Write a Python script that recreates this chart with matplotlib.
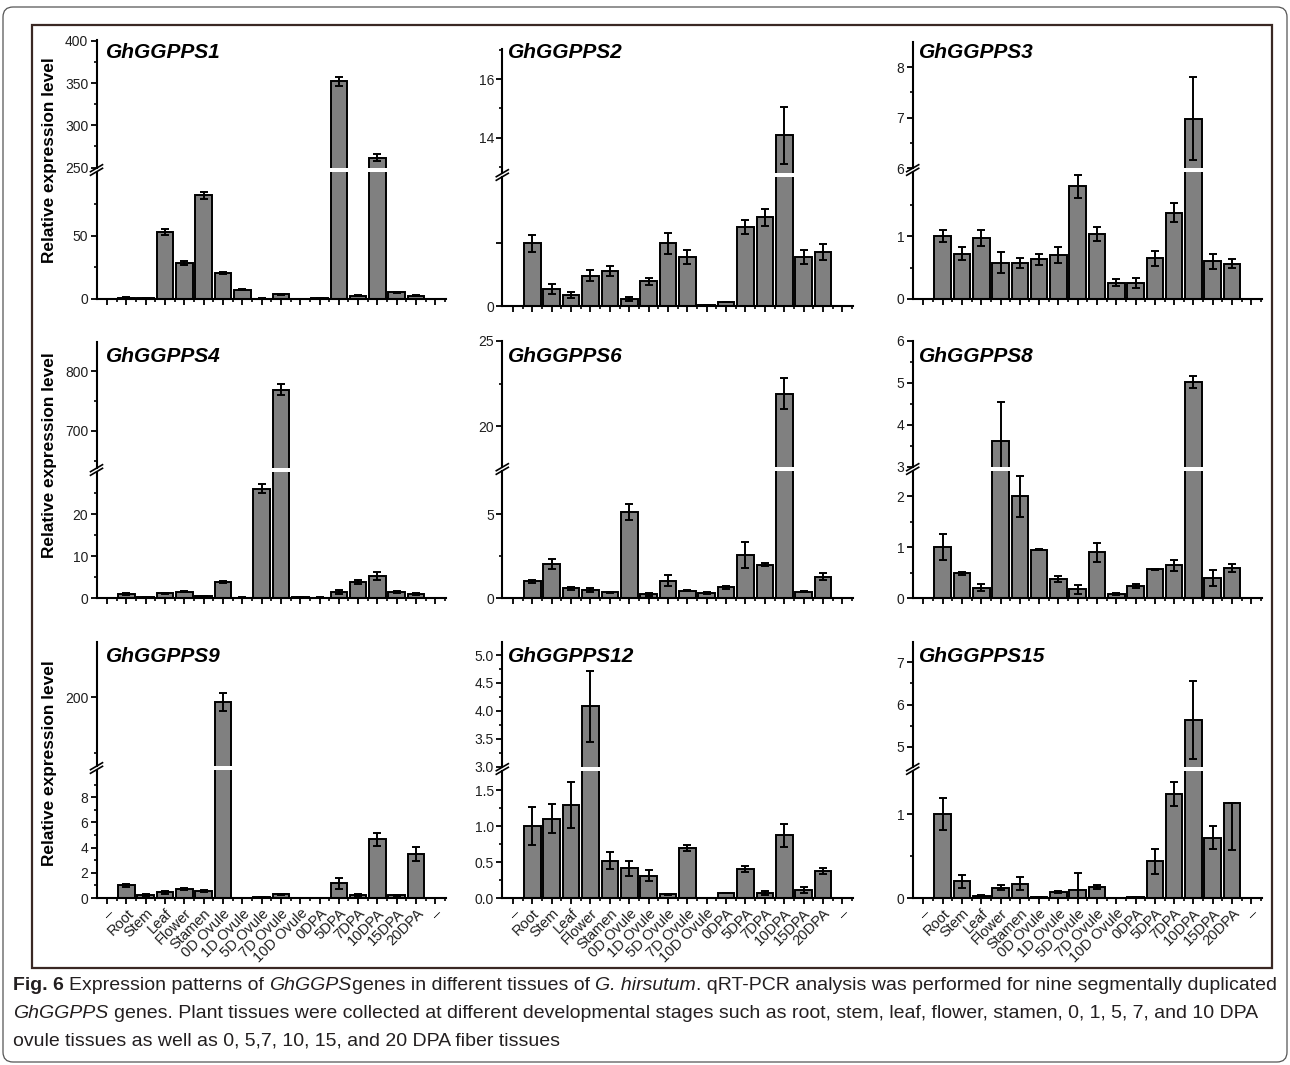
import numpy as np
import matplotlib
matplotlib.use('Agg')
import matplotlib.pyplot as plt
from matplotlib import font_manager
from matplotlib.lines import Line2D
from matplotlib.patches import FancyBboxPatch, Rectangle

W, H = 1290, 1065

tissues = ['Root', 'Stem', 'Leaf', 'Flower', 'Stamen', '0D Ovule', '1D Ovule',
           '5D Ovule', '7D Ovule', '10D Ovule', '0DPA', '5DPA', '7DPA', '10DPA',
           '15DPA', '20DPA']
tick_labels = ['–'] + tissues + ['–']

# relative expression (mean) and standard error per tissue
gg1_mean = [1.0, 0.9, 53.0, 28.5, 82.0, 20.3, 7.5, 0.3, 3.7, 0.2, 0.8, 352.0, 2.6, 262.0, 5.3, 2.6]
gg1_err = [0.2, 0.2, 2.5, 1.2, 2.5, 0.8, 0.3, 0.1, 0.5, 0.1, 0.2, 5.0, 0.6, 4.0, 0.3, 0.4]

gg2_mean = [0.99, 0.27, 0.17, 0.48, 0.55, 0.11, 0.39, 0.99, 0.77, 0.01, 0.06, 1.25, 1.40, 14.09, 0.78, 0.85]
gg2_err = [0.13, 0.08, 0.05, 0.09, 0.08, 0.03, 0.06, 0.17, 0.11, 0.0, 0.0, 0.11, 0.14, 0.96, 0.11, 0.13]

gg3_mean = [1.0, 0.72, 0.97, 0.58, 0.58, 0.63, 0.70, 1.79, 1.04, 0.26, 0.25, 0.65, 1.37, 6.98, 0.60, 0.56]
gg3_err = [0.1, 0.1, 0.12, 0.16, 0.08, 0.09, 0.13, 0.18, 0.11, 0.06, 0.08, 0.12, 0.15, 0.82, 0.12, 0.07]

gg4_mean = [0.95, 0.2, 1.1, 1.5, 0.4, 3.8, 0.1, 26.0, 769.0, 0.2, 0.1, 1.4, 3.8, 5.3, 1.5, 0.95]
gg4_err = [0.2, 0.05, 0.2, 0.1, 0.1, 0.2, 0.05, 1.1, 9.0, 0.05, 0.05, 0.4, 0.5, 1.0, 0.2, 0.3]

gg6_mean = [1.0, 2.03, 0.58, 0.46, 0.34, 5.14, 0.22, 1.03, 0.44, 0.28, 0.63, 2.57, 2.0, 21.9, 0.38, 1.27]
gg6_err = [0.08, 0.28, 0.1, 0.12, 0.03, 0.5, 0.08, 0.33, 0.05, 0.07, 0.07, 0.78, 0.1, 0.92, 0.05, 0.22]

gg8_mean = [1.0, 0.49, 0.2, 3.63, 2.0, 0.95, 0.38, 0.17, 0.9, 0.07, 0.24, 0.57, 0.64, 5.03, 0.4, 0.59]
gg8_err = [0.26, 0.03, 0.07, 0.92, 0.4, 0.01, 0.06, 0.09, 0.19, 0.02, 0.04, 0.01, 0.1, 0.14, 0.16, 0.08]

gg9_mean = [1.0, 0.22, 0.45, 0.7, 0.58, 196.0, 0.02, 0.05, 0.3, 0.01, 0.01, 1.17, 0.2, 4.66, 0.2, 3.5]
gg9_err = [0.12, 0.1, 0.12, 0.08, 0.08, 8.0, 0.0, 0.0, 0.05, 0.0, 0.0, 0.42, 0.08, 0.53, 0.07, 0.55]

gg12_mean = [1.0, 1.1, 1.29, 4.08, 0.52, 0.41, 0.31, 0.05, 0.69, 0.0, 0.07, 0.4, 0.07, 0.87, 0.11, 0.38]
gg12_err = [0.26, 0.2, 0.32, 0.64, 0.12, 0.1, 0.08, 0.01, 0.04, 0.0, 0.005, 0.04, 0.03, 0.16, 0.04, 0.04]

gg15_mean = [1.0, 0.2, 0.02, 0.12, 0.17, 0.01, 0.07, 0.1, 0.13, 0.0, 0.01, 0.44, 1.24, 5.64, 0.72, 1.13]
gg15_err = [0.19, 0.08, 0.01, 0.03, 0.08, 0.0, 0.01, 0.2, 0.02, 0.0, 0.0, 0.15, 0.14, 0.92, 0.14, 0.56]
gg15_err_up = [0.19, 0.08, 0.01, 0.03, 0.08, 0.0, 0.01, 0.2, 0.02, 0.0, 0.0, 0.15, 0.14, 0.92, 0.14, 0.0]

plt.rcParams['font.family'] = ['Liberation Sans', 'DejaVu Sans']

fig = plt.figure(figsize=(W / 100, H / 100), dpi=100)


def fx(px):
    return px / W


def fy(py):
    return 1 - py / H


# panel geometry in pixels; y limits / ticks of the two axis segments
col_left = [96.5, 502.3, 912.7]
col_right = [446, 853, 1262]
title_dx = [9.5, 6, 6]
title_y = [53, 356, 656]
ylabel_y = [160, 455, 763]

panels = [
    dict(name='GhGGPPS1', mean=gg1_mean, err=gg1_err, top=40, brk=170, base=299,
         low=(0, 100.5), up=(249.6, 400.8), low_ticks=[0, 50], low_minor=[25, 75],
         up_ticks=[250, 300, 350, 400], up_minor=[275, 325, 375]),
    dict(name='GhGGPPS2', mean=gg2_mean, err=gg2_err, top=49, brk=175, base=306,
         low=(0, 2.04), up=(12.81, 17.02), low_ticks=[0, 1], low_minor=[],
         up_ticks=[14, 16], up_minor=[13, 15, 17], low_labels=['0', '']),
    dict(name='GhGGPPS3', mean=gg3_mean, err=gg3_err, top=42, brk=170, base=299,
         low=(0, 2.02), up=(6.0, 8.5), low_ticks=[0, 1], low_minor=[0.5, 1.5],
         up_ticks=[6, 7, 8], up_minor=[6.5, 7.5]),
    dict(name='GhGGPPS4', mean=gg4_mean, err=gg4_err, top=342, brk=470, base=598,
         low=(0, 30), up=(637.5, 848.6), low_ticks=[0, 10, 20], low_minor=[5, 15, 25],
         up_ticks=[700, 800], up_minor=[650, 750]),
    dict(name='GhGGPPS6', mean=gg6_mean, err=gg6_err, top=341, brk=469, base=598,
         low=(0, 7.59), up=(17.6, 25.0), low_ticks=[0, 5], low_minor=[2.5],
         up_ticks=[20, 25], up_minor=[22.5]),
    dict(name='GhGGPPS8', mean=gg8_mean, err=gg8_err, top=341, brk=469, base=598,
         low=(0, 2.5), up=(3.0, 6.0), low_ticks=[0, 1, 2], low_minor=[0.5, 1.5],
         up_ticks=[3, 4, 5, 6], up_minor=[3.5, 4.5, 5.5]),
    dict(name='GhGGPPS9', mean=gg9_mean, err=gg9_err, top=642, brk=768, base=898,
         low=(0, 10.17), up=(137.9, 249.9), low_ticks=[0, 2, 4, 6, 8], low_minor=[1, 3, 5, 7, 9],
         up_ticks=[200], up_minor=[150]),
    dict(name='GhGGPPS12', mean=gg12_mean, err=gg12_err, top=642, brk=769, base=898,
         low=(0, 1.764), up=(2.995, 5.233), low_ticks=[0, 0.5, 1.0, 1.5],
         low_minor=[0.25, 0.75, 1.25], up_ticks=[3.0, 3.5, 4.0, 4.5, 5.0],
         up_minor=[3.25, 3.75, 4.25, 4.75], fmt='{:.1f}'),
    dict(name='GhGGPPS15', mean=gg15_mean, err=gg15_err, err_up=gg15_err_up,
         top=642, brk=769, base=898, low=(0, 1.517), up=(4.52, 7.48),
         low_ticks=[0, 1], low_minor=[0.5], up_ticks=[5, 6, 7], up_minor=[5.5, 6.5]),
]

x = np.arange(1, len(tissues) + 1)
lw = 1.4

for i, p in enumerate(panels):
    row, col = divmod(i, 3)
    L, R = col_left[col], col_right[col]
    top, brk, base = p['top'], p['brk'], p['base']
    fmt = p.get('fmt', '{:g}')

    ax_up = fig.add_axes([L / W, 1 - (brk - 2) / H, (R - L) / W, (brk - 2 - top) / H])
    ax_lo = fig.add_axes([L / W, 1 - base / H, (R - L) / W, (base - brk - 2) / H])

    err_up = p.get('err_up', p['err'])
    for ax in (ax_up, ax_lo):
        ax.bar(x, p['mean'], width=0.86, color='#808080', edgecolor='black',
               linewidth=lw, zorder=2)
        ax.errorbar(x, p['mean'], yerr=[p['err'], err_up], fmt='none', ecolor='black',
                    elinewidth=lw, capsize=3, capthick=lw, zorder=3)
        ax.set_xlim(-0.55, 17.55)
        ax.spines['top'].set_visible(False)
        ax.spines['right'].set_visible(False)
        ax.spines['left'].set_linewidth(1.5)
        ax.spines['bottom'].set_linewidth(1.5)
        ax.tick_params(axis='y', which='major', length=4, width=1.3, pad=2,
                       labelsize=10, labelcolor='#1e1e1e')
        ax.tick_params(axis='y', which='minor', length=2.5, width=1.2)
        ax.patch.set_alpha(0)

    ax_up.set_ylim(*p['up'])
    ax_up.set_yticks(p['up_ticks'])
    ax_up.set_yticklabels([fmt.format(t) for t in p['up_ticks']])
    ax_up.set_yticks(p['up_minor'], minor=True)
    ax_up.spines['bottom'].set_visible(False)
    ax_up.tick_params(axis='x', which='both', bottom=False, labelbottom=False)

    ax_lo.set_ylim(*p['low'])
    ax_lo.set_yticks(p['low_ticks'])
    ax_lo.set_yticklabels(p.get('low_labels', [fmt.format(t) for t in p['low_ticks']]))
    ax_lo.set_yticks(p['low_minor'], minor=True)
    ax_lo.set_xticks(np.arange(len(tick_labels)))
    ax_lo.set_xticks(np.arange(0.5, 17.6, 1), minor=True)
    ax_lo.tick_params(axis='x', which='major', length=4, width=1.3, pad=2)
    ax_lo.tick_params(axis='x', which='minor', length=2.5, width=1.2)
    if row == 2:
        ax_lo.set_xticklabels(tick_labels, rotation=45, ha='right', va='top',
                              rotation_mode='anchor', fontsize=10.5, color='#1e1e1e')
    else:
        ax_lo.set_xticklabels([])

    # break marks across the y axis
    for d in (-1.8, 1.8):
        fig.add_artist(Line2D([fx(L - 6), fx(L + 6)], [fy(brk + 3.5 + d), fy(brk - 3.5 + d)],
                              color='black', lw=1.2))

    fig.text(fx(L + title_dx[col]), fy(title_y[row]), p['name'], fontsize=15,
             fontweight='bold', fontstyle='italic', ha='left', va='center')
    if col == 0:
        fig.text(fx(50), fy(ylabel_y[row]), 'Relative expression level', rotation=90,
                 ha='center', va='center', fontsize=12.4, fontweight='bold')

# frames
fig.add_artist(FancyBboxPatch((0.03, (H - 1062) / 100), 12.84, 10.55,
                              boxstyle='round,pad=0,rounding_size=0.1',
                              transform=fig.dpi_scale_trans, fill=False,
                              edgecolor='#555555', lw=0.9))
fig.add_artist(Rectangle((0.32, (H - 968) / 100), 12.40, 9.43,
                         transform=fig.dpi_scale_trans, fill=False,
                         edgecolor='#3a2824', lw=1.6))

# caption
names = {f.name for f in font_manager.fontManager.ttflist}
cap_family = 'Liberation Sans Narrow' if 'Liberation Sans Narrow' in names else 'Liberation Sans'
renderer = fig.canvas.get_renderer()
B = dict(fontweight='bold')
N = dict()
I = dict(fontstyle='italic')

cap_lines = [
    [('Fig. 6', B, False), ('Expression patterns of', N, True), ('GhGGPS', I, True),
     ('genes in different tissues of', N, False), ('G. hirsutum', I, True),
     ('. qRT-PCR analysis was performed for nine segmentally duplicated', N, False)],
    [('GhGGPPS', I, False),
     ('genes. Plant tissues were collected at different developmental stages such as root, '
      'stem, leaf, flower, stamen, 0, 1, 5, 7, and 10 DPA', N, True)],
    [('ovule tissues as well as 0, 5,7, 10, 15, and 20 DPA fiber tissues', N, False)],
]


def text_width(s, size, style):
    t = fig.text(0, 0, s, fontsize=size, family=cap_family, **style)
    w = t.get_window_extent(renderer).width
    t.remove()
    return w


def line_width(parts, size):
    sp = text_width('x x', size, N) - text_width('xx', size, N)
    return sum(text_width(s, size, st) + (sp if gap else 0) for s, st, gap in parts)


cap_size = 10 * 1264 / line_width(cap_lines[0], 10)
space = text_width('x x', cap_size, N) - text_width('xx', cap_size, N)
for parts, y in zip(cap_lines, [985, 1013, 1041]):
    xp = 13
    for s, st, gap in parts:
        if gap:
            xp += space
        t = fig.text(fx(xp), fy(y), s, fontsize=cap_size, family=cap_family,
                     color='#231f20', ha='left', va='center', **st)
        xp += t.get_window_extent(renderer).width

fig.savefig('out.png', dpi=100)
